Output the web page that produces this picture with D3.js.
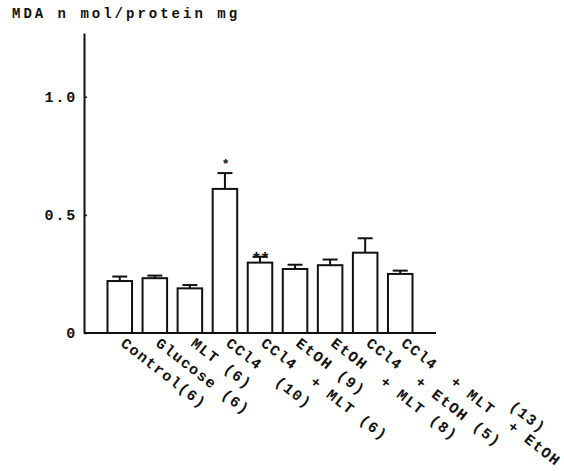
<!DOCTYPE html>
<html>
<head>
<meta charset="utf-8">
<script src="https://cdn.jsdelivr.net/npm/d3@7"></script>
<style>
  html, body { margin: 0; padding: 0; background: #fff; }
  svg text { font-family: "Liberation Mono", "DejaVu Sans Mono", monospace; font-weight: bold; fill: #111; }
</style>
</head>
<body>
<svg id="chart" width="564" height="471"></svg>
<script>
// Group labels (n in parentheses) along the x axis
const categories = [
  "Control(6)",
  "Glucose (6)",
  "MLT (6)",
  "CCl4  (10)",
  "CCl4  + MLT (6)",
  "EtOH (9)",
  "EtOH  + MLT (8)",
  "CCl4  + EtOH (5)",
  "CCl4  + MLT  + EtOH"
];
// Raised group size written above the last label
const raisedNotes = ["", "", "", "", "", "", "", "", "(13)"];
// MDA (n mol / protein mg), mean and standard error
const means  = [0.22, 0.232, 0.189, 0.61, 0.298, 0.271, 0.287, 0.34, 0.25];
const errors = [0.019, 0.011, 0.014, 0.067, 0.025, 0.018, 0.024, 0.061, 0.014];
// Significance marks above the bars
const marks  = ["", "", "", "*", "**", "", "", "", ""];
// Y axis ticks
const yTicks = [0, 0.5, 1.0];
const yTickLabels = ["0", "0.5", "1.0"];
const yTitle = "MDA n mol/protein mg";

const svg = d3.select("#chart");

const x = d3.scaleBand()
  .domain(d3.range(categories.length))
  .range([84, 436])
  .paddingInner(0.3)
  .paddingOuter(0.67);

const y = d3.scaleLinear()
  .domain([0, 1.27])
  .range([333, 33]);

// Title
svg.append("text")
  .attr("x", 12)
  .attr("y", 18)
  .attr("font-size", 14)
  .attr("letter-spacing", 3.0)
  .text(yTitle);

// Y axis
const yAxis = d3.axisLeft(y)
  .tickValues(yTicks)
  .tickFormat((d, i) => yTickLabels[i])
  .tickSizeInner(-3)
  .tickSizeOuter(0)
  .tickPadding(7);

const gy = svg.append("g")
  .attr("transform", `translate(${x.range()[0]},0)`)
  .call(yAxis);
gy.select(".domain").attr("stroke", "#111").attr("stroke-width", 2);
gy.selectAll(".tick line").attr("stroke", "#111").attr("stroke-width", 1.5);
gy.selectAll(".tick text")
  .attr("font-size", 15)
  .attr("letter-spacing", 1.8)
  .attr("font-family", "Liberation Mono")
  .attr("font-weight", "bold")
  .attr("fill", "#111");

// X axis baseline
svg.append("line")
  .attr("x1", x.range()[0])
  .attr("x2", x.range()[1])
  .attr("y1", y(0))
  .attr("y2", y(0))
  .attr("stroke", "#111")
  .attr("stroke-width", 2);

const idx = d3.range(categories.length);

// Bars
svg.append("g").selectAll("rect")
  .data(idx)
  .join("rect")
  .attr("x", i => x(i))
  .attr("y", i => y(means[i]))
  .attr("width", x.bandwidth())
  .attr("height", i => y(0) - y(means[i]))
  .attr("fill", "#fff")
  .attr("stroke", "#111")
  .attr("stroke-width", 2);

// Error bars (upper half only)
const eb = svg.append("g").attr("stroke", "#111").attr("stroke-width", 2);
idx.forEach(i => {
  const cx = x(i) + x.bandwidth() / 2;
  eb.append("line")
    .attr("x1", cx).attr("x2", cx)
    .attr("y1", y(means[i])).attr("y2", y(means[i] + errors[i]));
  eb.append("line")
    .attr("x1", cx - 7.5).attr("x2", cx + 7.5)
    .attr("y1", y(means[i] + errors[i])).attr("y2", y(means[i] + errors[i]));
});

// Significance marks
svg.append("g").selectAll("text")
  .data(idx.filter(i => marks[i]))
  .join("text")
  .attr("x", i => x(i) + x.bandwidth() / 2)
  .attr("y", i => y(means[i] + errors[i]) + (marks[i] === "*" ? -5 : 7))
  .attr("text-anchor", "middle")
  .attr("font-size", i => marks[i] === "*" ? 13 : 17)
  .attr("letter-spacing", -1.5)
  .text(i => marks[i]);

// Rotated category labels
const labels = svg.append("g");
idx.forEach(i => {
  const cx = x(i) + x.bandwidth() / 2;
  const g = labels.append("g")
    .attr("transform", `translate(${cx},${y(0) + 12}) rotate(38)`);
  g.append("text")
    .attr("x", 0).attr("y", 0)
    .attr("font-size", 15)
    .attr("letter-spacing", 1.4)
    .attr("xml:space", "preserve")
    .style("white-space", "pre")
    .text(categories[i]);
  if (raisedNotes[i]) {
    g.append("text")
      .attr("x", 124).attr("y", -17)
      .attr("font-size", 15)
      .attr("letter-spacing", 1.4)
      .text(raisedNotes[i]);
  }
});
</script>
</body>
</html>
